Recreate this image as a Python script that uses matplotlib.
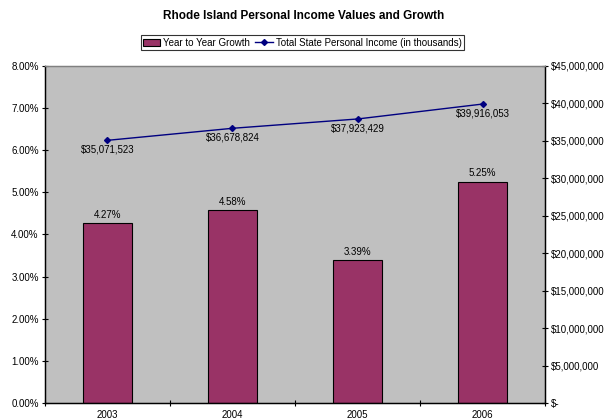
import matplotlib
matplotlib.use("Agg")
import matplotlib.pyplot as plt
from matplotlib.ticker import FuncFormatter

plt.rcParams['font.family'] = ['Liberation Sans', 'DejaVu Sans']

years = ['2003', '2004', '2005', '2006']
growth = [4.27, 4.58, 3.39, 5.25]  # percent
income = [35071523, 36678824, 37923429, 39916053]  # thousands

fig = plt.figure(figsize=(6.08, 4.2), dpi=100)
ax = fig.add_axes([0.074, 0.0405, 0.8224, 0.8024])
ax.set_facecolor('#C0C0C0')

x = range(len(years))
ax.bar(x, growth, width=0.39, color='#993366', edgecolor='black', linewidth=0.8,
       label='Year to Year Growth', zorder=2)
for xi, g in zip(x, growth):
    ax.text(xi, g + 0.08, f'{g:.2f}%', ha='center', va='bottom', fontsize=7)

ax.set_xlim(-0.5, len(years) - 0.5)
ax.set_ylim(0, 8)
ax.set_yticks([i for i in range(9)])
ax.yaxis.set_major_formatter(FuncFormatter(lambda v, p: f'{v:.2f}%'))
ax.set_xticks([i - 0.5 for i in range(len(years) + 1)], minor=False)
ax.set_xticklabels([])
ax.set_xticks(list(x), minor=True)
ax.set_xticklabels(years, minor=True)
ax.tick_params(axis='x', which='minor', length=0, labelsize=7, pad=5)
ax.tick_params(axis='x', which='major', length=5, direction='inout')
ax.tick_params(axis='y', labelsize=7, length=5, direction='inout', pad=2)

ax2 = ax.twinx()
ax2.plot(list(x), income, color='#000080', marker='D', markersize=3,
         linewidth=1, label='Total State Personal Income (in thousands)', zorder=3)
for xi, v in zip(x, income):
    ax2.text(xi, v - 600000, f'${v:,.0f}', ha='center', va='top', fontsize=7)
ax2.set_ylim(0, 45000000)
ax2.set_yticks(range(0, 45000001, 5000000))
ax2.yaxis.set_major_formatter(FuncFormatter(lambda v, p: '$-' if v == 0 else f'${v:,.0f}'))
ax2.tick_params(axis='y', labelsize=7, length=5, direction='inout', pad=2)

for a in (ax, ax2):
    for s in a.spines.values():
        s.set_linewidth(0.9)
    a.spines['top'].set_color('#808080')

fig.text(0.5, 0.962, 'Rhode Island Personal Income Values and Growth',
         ha='center', va='center', fontsize=8.5, fontweight='bold')

h1, l1 = ax.get_legend_handles_labels()
h2, l2 = ax2.get_legend_handles_labels()
leg = fig.legend(h1 + h2, l1 + l2, loc='center', bbox_to_anchor=(0.497, 0.898),
                 ncol=2, fontsize=7, frameon=True, fancybox=False,
                 edgecolor='black', handlelength=1.8, handletextpad=0.3,
                 columnspacing=0.5, borderpad=0.25)
leg.get_frame().set_linewidth(0.8)

fig.savefig('out.png', dpi=100)
